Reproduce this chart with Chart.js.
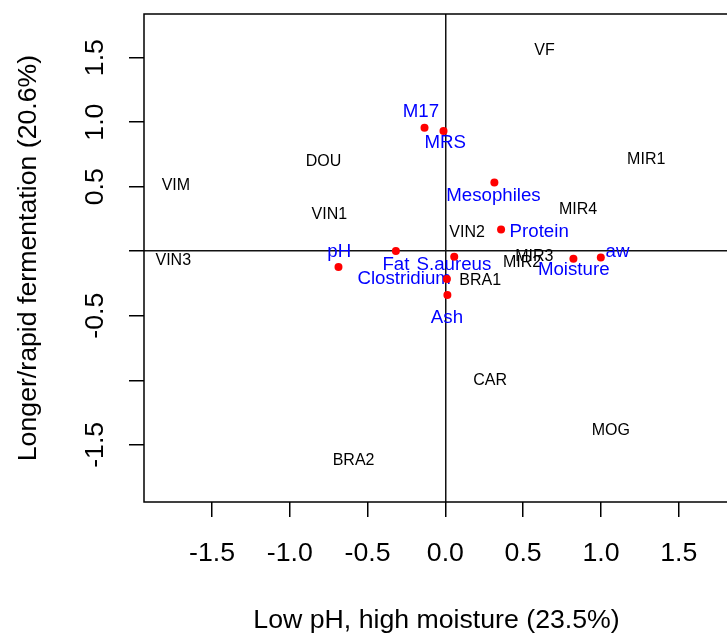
<!DOCTYPE html>
<html>
<head>
<meta charset="utf-8">
<title>Biplot</title>
<script src="https://cdn.jsdelivr.net/npm/chart.js@4.4.1/dist/chart.umd.min.js"></script>
<style>
  html, body { margin: 0; padding: 0; background: #fff; overflow: hidden; }
  #wrap { width: 760px; height: 635px; }
</style>
</head>
<body>
<div id="wrap"><canvas id="biplot" width="760" height="635"></canvas></div>
<script>
// samples (black labels)
const sampleNames = ["VF", "DOU", "MIR1", "VIM", "MIR4", "VIN1", "VIN2", "VIN3", "MIR2", "MIR3", "BRA1", "CAR", "MOG", "BRA2"];
const sampleX = [0.637, -0.783, 1.291, -1.732, 0.853, -0.746, 0.140, -1.749, 0.493, 0.572, 0.224, 0.288, 1.063, -0.590];
const sampleY = [1.553, 0.698, 0.712, 0.512, 0.324, 0.285, 0.148, -0.074, -0.087, -0.043, -0.224, -0.999, -1.392, -1.619];

// variables (red points, blue labels)
const varNames = ["M17", "MRS", "Mesophiles", "Protein", "pH", "Fat", "S.aureus", "Clostridium", "Ash", "Moisture", "aw"];
const varX = [-0.134, -0.012, 0.315, 0.358, -0.687, -0.318, 0.057, 0.010, 0.013, 0.823, 0.999];
const varY = [0.957, 0.931, 0.533, 0.169, -0.123, 0.001, -0.043, -0.216, -0.340, -0.059, -0.048];
// where each variable's label sits, in axis units
const varLabelX = [-0.157, -0.001, 0.309, 0.603, -0.682, -0.318, 0.055, -0.265, 0.010, 0.825, 1.106];
const varLabelY = [1.081, 0.840, 0.429, 0.150, -0.005, -0.108, -0.108, -0.211, -0.516, -0.141, -0.005];

const xTicks = [-1.5, -1, -0.5, 0, 0.5, 1, 1.5];
const xTickLabels = ["-1.5", "-1.0", "-0.5", "0.0", "0.5", "1.0", "1.5"];
const yTicks = [-1.5, -1, -0.5, 0, 0.5, 1, 1.5];
const yTickLabels = ["-1.5", "", "-0.5", "", "0.5", "1.0", "1.5"];

const FONT = '"Liberation Sans", Arial, sans-serif';

const zeroLine = c => (c.tick && c.tick.value === 0) ? "#111" : "rgba(0,0,0,0)";

const labelsPlugin = {
  id: "biplotLabels",
  beforeDatasetsDraw(chart) {
    const { ctx, scales: { x, y } } = chart;
    ctx.save();
    ctx.textAlign = "center";
    ctx.textBaseline = "middle";

    ctx.font = "16px " + FONT;
    ctx.fillStyle = "#000";
    chart.getDatasetMeta(0).data.forEach((pt, i) => {
      ctx.fillText(sampleNames[i], pt.x, pt.y);
    });

    ctx.font = "18.7px " + FONT;
    ctx.fillStyle = "#0000ff";
    varNames.forEach((name, i) => {
      ctx.fillText(name, x.getPixelForValue(varLabelX[i]), y.getPixelForValue(varLabelY[i]));
    });
    ctx.restore();
  },
  afterDraw(chart) {
    const { ctx, chartArea: a } = chart;
    ctx.save();
    ctx.strokeStyle = "#000";
    ctx.lineWidth = 1.5;
    ctx.strokeRect(a.left, a.top, a.right - a.left, a.bottom - a.top);
    ctx.restore();
  }
};

new Chart(document.getElementById("biplot"), {
  type: "scatter",
  data: {
    datasets: [
      {
        label: "samples",
        data: sampleX.map((v, i) => ({ x: v, y: sampleY[i] })),
        pointRadius: 0,
        pointHoverRadius: 0
      },
      {
        label: "variables",
        data: varX.map((v, i) => ({ x: v, y: varY[i] })),
        pointRadius: 4,
        pointBackgroundColor: "#ff0000",
        pointBorderWidth: 0
      }
    ]
  },
  options: {
    responsive: false,
    animation: false,
    devicePixelRatio: 1,
    layout: { padding: { left: 0, top: 14, right: 31, bottom: 0 } },
    plugins: { legend: { display: false }, tooltip: { enabled: false } },
    scales: {
      x: {
        type: "linear",
        min: -1.937,
        max: 1.823,
        afterBuildTicks: s => { s.ticks = xTicks.map(v => ({ value: v })); },
        afterFit: s => { s.height = 133; s.paddingLeft = 0; s.paddingRight = 0; },
        border: { display: false },
        grid: { color: zeroLine, lineWidth: 1.5, tickColor: "#000", tickWidth: 1.5, tickLength: 15 },
        ticks: {
          color: "#000",
          font: { family: FONT, size: 26.7 },
          padding: 21,
          autoSkip: false,
          maxRotation: 0,
          callback: (v, i) => xTickLabels[i]
        },
        title: {
          display: true,
          text: "Low pH, high moisture (23.5%)",
          color: "#000",
          font: { family: FONT, size: 26.7, lineHeight: 1 },
          padding: { top: 0, bottom: 1 }
        }
      },
      y: {
        type: "linear",
        min: -1.943,
        max: 1.838,
        afterBuildTicks: s => { s.ticks = yTicks.map(v => ({ value: v })); },
        afterFit: s => { s.width = 144; s.paddingTop = 0; s.paddingBottom = 0; },
        border: { display: false },
        grid: { color: zeroLine, lineWidth: 1.5, tickColor: "#000", tickWidth: 1.5, tickLength: 15 },
        ticks: {
          color: "#000",
          font: { family: FONT, size: 26.7 },
          padding: 10,
          autoSkip: false,
          minRotation: 90,
          maxRotation: 90,
          crossAlign: "center",
          callback: (v, i) => yTickLabels[i]
        },
        title: {
          display: true,
          text: "Longer/rapid fermentation (20.6%)",
          color: "#000",
          font: { family: FONT, size: 26.7, lineHeight: 1 },
          padding: { top: 15, bottom: 0 }
        }
      }
    }
  },
  plugins: [labelsPlugin]
});
</script>
</body>
</html>
